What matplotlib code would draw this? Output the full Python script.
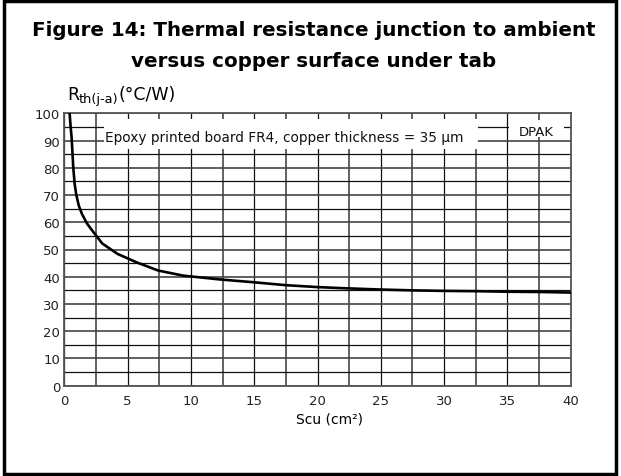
import matplotlib
matplotlib.use("Agg")
import matplotlib.pyplot as plt
from matplotlib.patches import Rectangle
import numpy as np

# ---- data ----
scu = [0.42, 0.50, 0.58, 0.71, 0.82, 0.95, 1.15, 1.4, 1.8, 2.2, 3.0, 4.2, 5.7,
       7.4, 9.4, 12.3, 14.9, 17.5, 20.0, 22.0, 25.0, 27.5, 30.0, 32.5, 35.0, 37.5, 40.0]
rth = [100, 95, 91, 80, 74, 70, 66, 63, 59.5, 57, 52.2, 48.4, 45.3,
       42.3, 40.4, 39.0, 38.0, 36.9, 36.2, 35.8, 35.3, 35.0, 34.8, 34.7, 34.5, 34.4, 34.2]
x_ticks = [0, 5, 10, 15, 20, 25, 30, 35, 40]
y_ticks = [0, 10, 20, 30, 40, 50, 60, 70, 80, 90, 100]

title_lines = ["Figure 14: Thermal resistance junction to ambient",
               "versus copper surface under tab"]
note = "Epoxy printed board FR4, copper thickness = 35 µm"
series_label = "DPAK"

W, H = 621, 477
fig = plt.figure(figsize=(W / 100, H / 100), dpi=100)
plt.rcParams['font.family'] = ['DejaVu Sans']

def fx(px):
    return px / W

def fy(py):
    return 1 - py / H

# outer frame
fig.patches.append(Rectangle((fx(4), fy(475)), fx(616) - fx(4), fy(2) - fy(475),
                             transform=fig.transFigure, fill=False, lw=2.5,
                             edgecolor='black', zorder=0))

ax = fig.add_axes([fx(64.3), fy(386.7), fx(570.7) - fx(64.3), fy(114.3) - fy(386.7)])
ax.set_xlim(0, 40)
ax.set_ylim(0, 100)
ax.set_xticks(x_ticks)
ax.set_yticks(y_ticks)
ax.set_xticks(np.arange(2.5, 40, 5), minor=True)
ax.set_yticks(np.arange(5, 100, 10), minor=True)
ax.tick_params(which='both', length=0)
ax.tick_params(axis='x', pad=6, labelsize=9.5, colors='#222222')
ax.tick_params(axis='y', pad=3, labelsize=9.5, colors='#222222')
ax.grid(which='major', axis='x', color='#111111', lw=0.9)
ax.grid(which='minor', axis='x', color='#555555', lw=1.3)
ax.grid(which='major', axis='y', color='#444444', lw=1.2)
ax.grid(which='minor', axis='y', color='#111111', lw=0.9)
for s in ax.spines.values():
    s.set_color('#555555')
    s.set_linewidth(1.3)

# annotation boxes
ax.add_patch(Rectangle((3.1, 87), 32.7 - 3.1, 98 - 87, facecolor='white',
                       edgecolor='none', zorder=2))
ax.text(3.2, 91.3, note, fontsize=9.8, va='center', ha='left', zorder=3, color='#111111')
ax.add_patch(Rectangle((35.15, 91.2), 39.5 - 35.15, 97.5 - 91.2, facecolor='white',
                       edgecolor='none', zorder=2))
ax.text(37.3, 93.2, series_label, fontsize=9.5, va='center', ha='center', zorder=3,
        color='#111111')

ax.plot(scu, rth, color='black', lw=1.9, zorder=4, clip_on=True)

# titles and labels
fig.text(0.505, fy(36), title_lines[0], ha='center', va='baseline', fontsize=14.3,
         fontweight='bold')
fig.text(0.505, fy(67), title_lines[1], ha='center', va='baseline', fontsize=14.3,
         fontweight='bold')
fig.text(fx(67), fy(100), "R", fontsize=12.5, ha='left', va='baseline')
fig.text(fx(79), fy(102.5), "th(j-a)", fontsize=9.3, ha='left', va='baseline')
fig.text(fx(118), fy(100), "(°C/W)", fontsize=12.5, ha='left', va='baseline')
fig.text(fx(329), fy(420), "Scu (cm²)", fontsize=10, ha='center', va='center')

fig.savefig("out.png", dpi=100)
